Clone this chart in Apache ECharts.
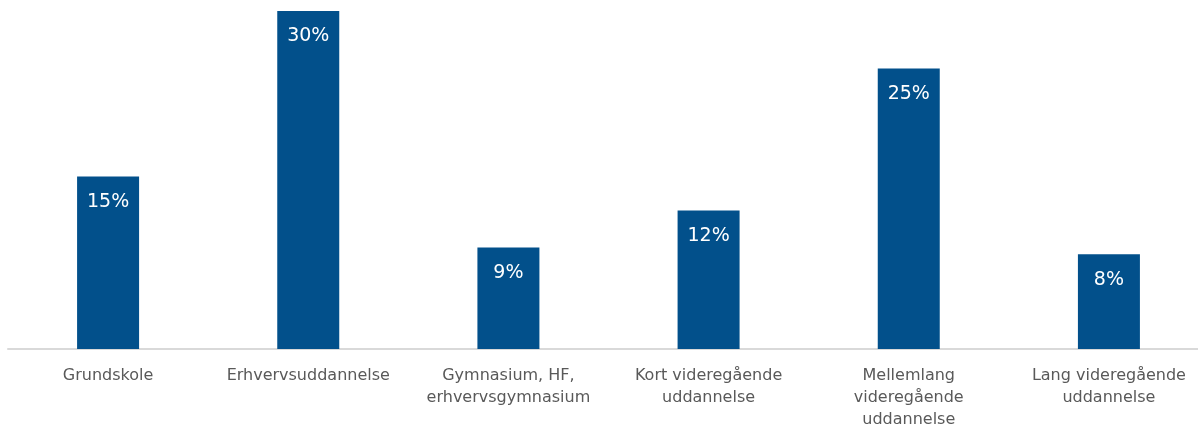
<!DOCTYPE html>
<html>
<head>
<meta charset="utf-8">
<script src="https://cdn.jsdelivr.net/npm/echarts@6/dist/echarts.min.js"></script>
<style>
html,body{margin:0;padding:0;background:#fff;}
#chart{width:1198px;height:425px;}
</style>
</head>
<body>
<div id="chart"></div>
<script>
const categories = [
  "Grundskole",
  "Erhvervsuddannelse",
  "Gymnasium, HF,\nerhvervsgymnasium",
  "Kort videregående\nuddannelse",
  "Mellemlang\nvideregående\nuddannelse",
  "Lang videregående\nuddannelse"
];
const values = [15.3, 30.0, 9.0, 12.3, 24.9, 8.4];
const valueLabels = ["15%", "30%", "9%", "12%", "25%", "8%"];

const chart = echarts.init(document.getElementById('chart'), null, {renderer: 'canvas'});
chart.setOption({
  animation: false,
  backgroundColor: '#ffffff',
  grid: {left: 8, width: 1201, top: 11, height: 338, containLabel: false, outerBoundsMode: 'none'},
  xAxis: {
    type: 'category',
    data: categories,
    axisLine: {show: true, lineStyle: {color: '#d9d9d9', width: 2}},
    axisTick: {show: false},
    axisLabel: {
      interval: 0,
      margin: 16,
      color: '#595959',
      fontFamily: 'DejaVu Sans',
      fontSize: 16,
      lineHeight: 22
    }
  },
  yAxis: {
    type: 'value',
    min: 0,
    max: 30,
    show: false
  },
  series: [{
    type: 'bar',
    data: values,
    barWidth: 62,
    itemStyle: {color: '#02508b'},
    label: {
      show: true,
      position: 'insideTop',
      distance: 16,
      color: '#ffffff',
      fontFamily: 'DejaVu Sans',
      fontSize: 19,
      formatter: p => valueLabels[p.dataIndex]
    }
  }]
});
</script>
</body>
</html>
